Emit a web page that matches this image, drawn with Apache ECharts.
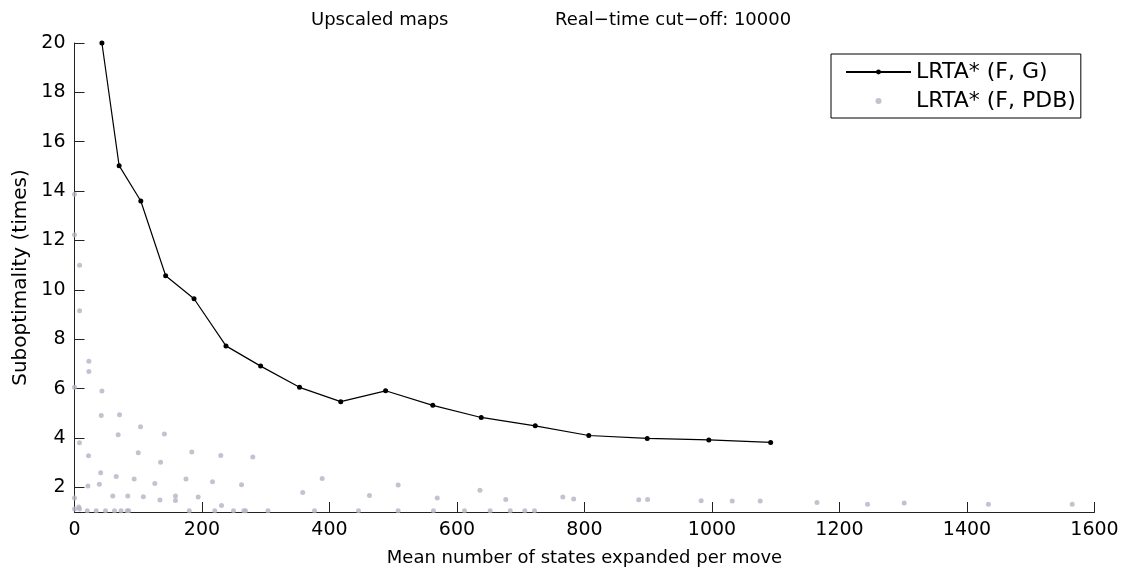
<!DOCTYPE html>
<html>
<head>
<meta charset="utf-8">
<script src="https://cdn.jsdelivr.net/npm/echarts@6/dist/echarts.min.js"></script>
<style>
  html, body { margin: 0; padding: 0; background: #fff; }
  #main { width: 1125px; height: 573px; }
</style>
</head>
<body>
<div id="main"></div>
<script>
// LRTA* (F, G): mean states expanded per move vs suboptimality
var fgStates = [43, 70, 104, 143, 187.5, 237.6, 292, 353, 417.6, 488, 562, 638, 722.7, 806.7, 898.4, 995, 1092];
var fgSubopt = [20, 15.03, 13.6, 10.57, 9.64, 7.73, 6.91, 6.05, 5.47, 5.91, 5.32, 4.83, 4.49, 4.10, 3.98, 3.92, 3.82];

// LRTA* (F, PDB): [states, suboptimality]
var pdbPoints = [
    [0, 13.87], [0, 12.23], [8, 11.0], [8, 9.15], [22.5, 7.11], [22.5, 6.69], [0, 6.05], [43, 5.9],
    [42, 4.91], [70.6, 4.94], [68.5, 4.13], [103.5, 4.45], [141, 4.16], [7.8, 3.81], [22, 3.28],
    [100, 3.40], [135, 3.02], [184, 3.43], [229.5, 3.29], [279.7, 3.23], [41, 2.59], [39, 2.12],
    [21, 2.05], [65.4, 2.44], [93.6, 2.34], [126, 2.15], [174.9, 2.34], [216.5, 2.23], [262, 2.10],
    [0, 1.57], [60, 1.65], [83.6, 1.65], [108, 1.62], [134, 1.49], [158.4, 1.65], [158.4, 1.47],
    [194, 1.61], [230.6, 1.26], [358, 1.79], [388.5, 2.36], [462.7, 1.67], [507.7, 2.09], [569, 1.57],
    [636, 1.88], [676.5, 1.51], [766, 1.61], [783, 1.53], [885, 1.50], [899, 1.51], [983, 1.46],
    [1031.7, 1.45], [1075.6, 1.45], [1164.7, 1.38], [1244, 1.31], [1301.5, 1.36], [1433.6, 1.31],
    [1565, 1.31],
    [0, 1.12], [6.7, 1.20], [7.8, 1.12], [20, 1.05], [34, 1.05], [48.6, 1.05], [62.7, 1.05],
    [73, 1.05], [82.7, 1.05], [85, 1.05], [180, 1.05], [220, 1.05], [249.4, 1.05], [265.6, 1.05],
    [268.2, 1.05], [303.5, 1.05], [376.5, 1.05], [445.5, 1.05], [507.7, 1.05], [563, 1.05],
    [611.8, 1.05], [652, 1.05], [683.5, 1.05], [706.4, 1.05], [721.6, 1.05]
];

var yTicks = [2, 4, 6, 8, 10, 12, 14, 16, 18, 20];

var font = 'DejaVu Sans, Liberation Sans, sans-serif';
var axisColor = '#222';

var myChart = echarts.init(document.getElementById('main'));

var fgData = fgStates.map(function (x, i) { return [x, fgSubopt[i]]; });

var option = {
    animation: false,
    title: [
        {text: 'Upscaled maps', left: 311, top: 11, padding: 0,
         textStyle: {fontFamily: font, fontSize: 18, fontWeight: 'normal', color: '#000'}},
        {text: 'Real\u2212time cut\u2212off: 10000', left: 555, top: 11, padding: 0,
         textStyle: {fontFamily: font, fontSize: 18, fontWeight: 'normal', color: '#000'}}
    ],
    grid: {left: 74.5, right: 30.5, top: 43, bottom: 61},
    legend: {
        orient: 'vertical',
        left: 831,
        top: 54,
        padding: [7, 5, 6, 14],
        itemGap: 7,
        itemWidth: 65,
        itemHeight: 6,
        borderColor: '#000',
        borderWidth: 1,
        borderRadius: 0,
        backgroundColor: '#fff',
        textStyle: {fontFamily: font, fontSize: 22, lineHeight: 22, color: '#000'},
        data: [
            {name: 'LRTA* (F, G)'},
            {name: 'LRTA* (F, PDB)', icon: 'circle'}
        ]
    },
    xAxis: {
        type: 'value',
        min: 0,
        max: 1600,
        interval: 200,
        name: 'Mean number of states expanded per move',
        nameLocation: 'middle',
        nameGap: 37,
        nameTextStyle: {fontFamily: font, fontSize: 18, color: '#000'},
        axisLine: {lineStyle: {color: axisColor, width: 1}},
        axisTick: {inside: true, length: 10, lineStyle: {color: axisColor}},
        axisLabel: {fontFamily: font, fontSize: 19, color: '#000', margin: 9,
                    formatter: function (v) { return String(v); }},
        splitLine: {show: false}
    },
    yAxis: {
        type: 'value',
        min: 1,
        max: 20,
        name: 'Suboptimality (times)',
        nameLocation: 'middle',
        nameGap: 44,
        nameTextStyle: {fontFamily: font, fontSize: 20, color: '#000'},
        axisLine: {show: true, lineStyle: {color: axisColor, width: 1}},
        axisTick: {show: true, inside: true, length: 10, customValues: yTicks, lineStyle: {color: axisColor}},
        axisLabel: {fontFamily: font, fontSize: 19, color: '#000', margin: 9, customValues: yTicks},
        splitLine: {show: false}
    },
    series: [
        {
            name: 'LRTA* (F, PDB)',
            type: 'scatter',
            data: pdbPoints,
            symbolSize: 5,
            itemStyle: {color: '#b4b4c4'},
            z: 2
        },
        {
            name: 'LRTA* (F, G)',
            type: 'line',
            data: fgData,
            symbol: 'circle',
            symbolSize: 5,
            showSymbol: true,
            lineStyle: {color: '#000', width: 1.2},
            itemStyle: {color: '#000'},
            z: 3
        }
    ]
};

myChart.setOption(option);
</script>
</body>
</html>
